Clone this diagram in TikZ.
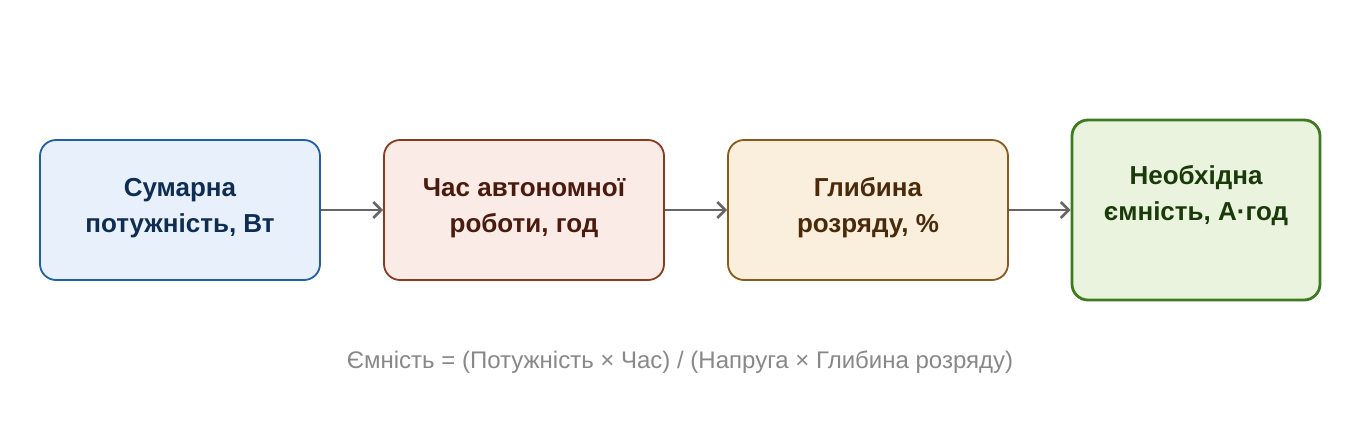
\documentclass[tikz,border=0pt]{standalone}
\usepackage{fontspec}
\setmainfont{Liberation Sans}
\usetikzlibrary{arrows.meta}
\definecolor{bluefill}{HTML}{E8F1FB}
\definecolor{blueline}{HTML}{1F5FA6}
\definecolor{bluetext}{HTML}{0F2D52}
\definecolor{redfill}{HTML}{FAEBE7}
\definecolor{redline}{HTML}{8B3A1E}
\definecolor{redtext}{HTML}{4A1A0E}
\definecolor{orangefill}{HTML}{FAEEDC}
\definecolor{orangeline}{HTML}{8B5A1A}
\definecolor{orangetext}{HTML}{4A2A0A}
\definecolor{greenfill}{HTML}{EAF3DD}
\definecolor{greenline}{HTML}{3F7A1F}
\definecolor{greentext}{HTML}{1A3A0A}
\definecolor{arrowgray}{HTML}{666666}
\definecolor{notegray}{HTML}{888888}
\tikzset{
  stagebox/.style={draw, rounded corners=16pt, line width=1.8pt,
    minimum width=280pt, minimum height=140pt, inner sep=0pt},
  stagetext/.style={align=center, font=\fontsize{26}{36}\selectfont\bfseries},
  flow/.style={draw=arrowgray, line width=2.8pt,
    -{Straight Barb[length=8pt, width=16pt, line width=2.6pt]}}
}
\begin{document}
\begin{tikzpicture}[x=1pt, y=-1pt]
		\useasboundingbox (0,0) rectangle (1360,440);

		% Boxes
		\node[stagebox, fill=bluefill, draw=blueline] (power) at (180,210) {};
		\node[stagebox, fill=redfill, draw=redline] (hours) at (524,210) {};
		\node[stagebox, fill=orangefill, draw=orangeline] (depth) at (868,210) {};
		\node[stagebox, fill=greenfill, draw=greenline, line width=2.8pt,
			minimum width=248pt, minimum height=180pt] (capacity) at (1196,210) {};

		% Labels
		\node[stagetext, text=bluetext] (powertext) at (180,208) {Сумарна\\потужність, Вт};
		\node[stagetext, text=redtext] (hourstext) at (524,208) {Час автономної\\роботи, год};
		\node[stagetext, text=orangetext] (depthtext) at (868,208) {Глибина\\розряду, \%};
		\node[stagetext, text=greentext] (capacitytext) at (1196,196) {Необхідна\\ємність, А·год};

		% Connections
		\draw[flow] (power.east) -- (hours.west);
		\draw[flow] (hours.east) -- (depth.west);
		\draw[flow] (depth.east) -- (capacity.west);

		% Formula
		\node[text=notegray, font=\fontsize{24}{28}\selectfont] (formula) at (680,362)
			{Ємність = (Потужність × Час) / (Напруга × Глибина розряду)};
\end{tikzpicture}
\end{document}
